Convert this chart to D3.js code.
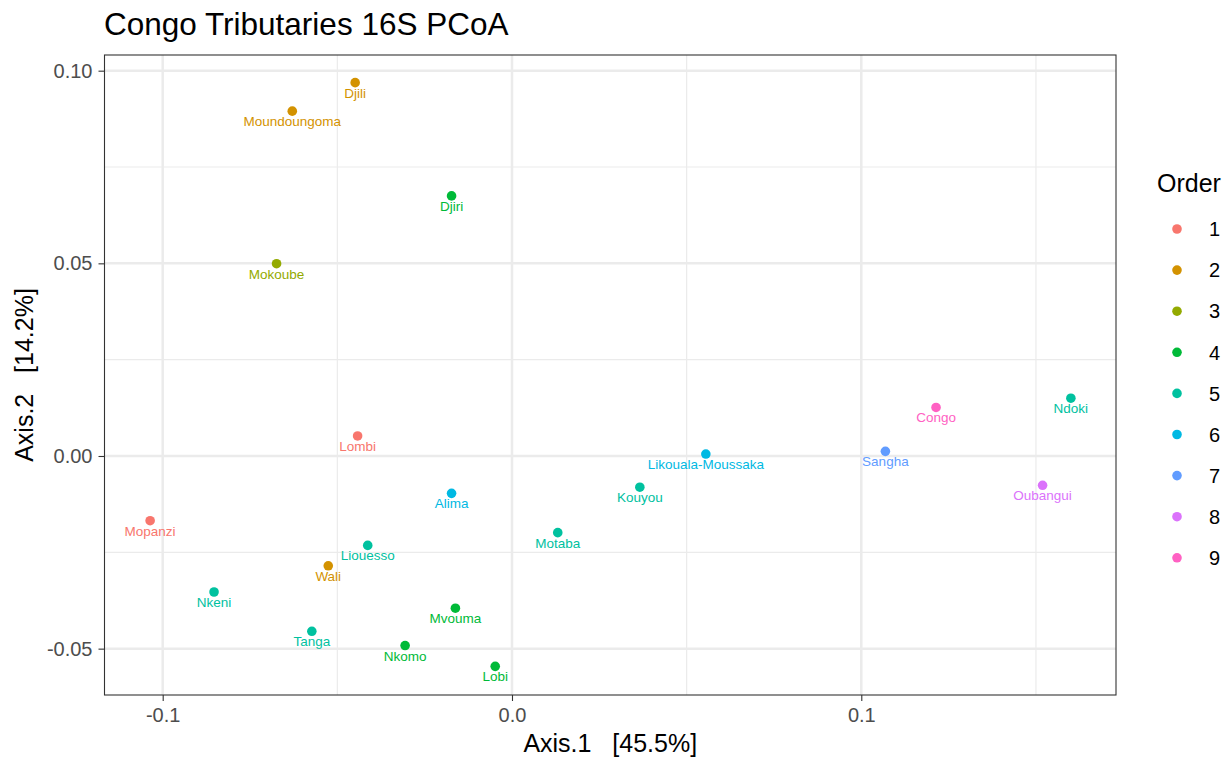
<!DOCTYPE html>
<html>
<head>
<meta charset="utf-8">
<script src="https://cdn.jsdelivr.net/npm/d3@7"></script>
<style>
  body { margin: 0; background: #fff; }
  text { font-family: "Liberation Sans", Arial, sans-serif; white-space: pre; }
</style>
</head>
<body>
<svg id="plot"></svg>
<script>
// sample data
const samples = ["Djili", "Moundoungoma", "Djiri", "Mokoube", "Lombi", "Mopanzi", "Alima",
    "Liouesso", "Wali", "Nkeni", "Tanga", "Nkomo", "Mvouma", "Lobi", "Motaba", "Kouyou",
    "Likouala-Moussaka", "Sangha", "Congo", "Ndoki", "Oubangui"];
const axis1 = [-0.0449, -0.0629, -0.0173, -0.0674, -0.0442, -0.1036, -0.0173,
    -0.0413, -0.0526, -0.0853, -0.0573, -0.0306, -0.0162, -0.0048, 0.0131, 0.0366,
    0.0555, 0.1069, 0.1214, 0.1600, 0.1519];
const axis2 = [0.0969, 0.0895, 0.0675, 0.0499, 0.0052, -0.0168, -0.0097,
    -0.0232, -0.0285, -0.0353, -0.0455, -0.0492, -0.0395, -0.0546, -0.0199, -0.0081,
    0.0005, 0.0012, 0.0126, 0.0150, -0.0076];
const orders = ["2", "2", "4", "3", "1", "1", "6",
    "5", "2", "5", "5", "4", "4", "4", "5", "5",
    "6", "7", "9", "5", "8"];

const orderLevels = ["1", "2", "3", "4", "5", "6", "7", "8", "9"];
const orderColors = ["#F8766D", "#D39200", "#93AA00", "#00BA38", "#00C19F", "#00B9E3", "#619CFF", "#DB72FB", "#FF61C3"];

const xMajor = [-0.1, 0.0, 0.1];
const xMinor = [-0.05, 0.05, 0.15];
const yMajor = [-0.05, 0.00, 0.05, 0.10];
const yMinor = [-0.025, 0.025, 0.075];
const xLabels = ["-0.1", "0.0", "0.1"];
const yLabels = ["-0.05", "0.00", "0.05", "0.10"];

const width = 1232, height = 760;
const panel = { left: 104.5, right: 1116, top: 55, bottom: 695 };

const svg = d3.select("#plot")
    .attr("width", width)
    .attr("height", height);

const x = d3.scaleLinear().domain([-0.11666, 0.17292]).range([panel.left, panel.right]);
const y = d3.scaleLinear().domain([-0.06203, 0.10407]).range([panel.bottom, panel.top]);
const color = d3.scaleOrdinal(orderLevels, orderColors);

// grid lines
const grid = svg.append("g");
grid.selectAll(".xminor").data(xMinor).enter().append("line")
    .attr("x1", d => x(d)).attr("x2", d => x(d))
    .attr("y1", panel.top).attr("y2", panel.bottom)
    .attr("stroke", "#EBEBEB").attr("stroke-width", 1.2);
grid.selectAll(".yminor").data(yMinor).enter().append("line")
    .attr("y1", d => y(d)).attr("y2", d => y(d))
    .attr("x1", panel.left).attr("x2", panel.right)
    .attr("stroke", "#EBEBEB").attr("stroke-width", 1.2);
grid.selectAll(".xmajor").data(xMajor).enter().append("line")
    .attr("x1", d => x(d)).attr("x2", d => x(d))
    .attr("y1", panel.top).attr("y2", panel.bottom)
    .attr("stroke", "#EBEBEB").attr("stroke-width", 2.5);
grid.selectAll(".ymajor").data(yMajor).enter().append("line")
    .attr("y1", d => y(d)).attr("y2", d => y(d))
    .attr("x1", panel.left).attr("x2", panel.right)
    .attr("stroke", "#EBEBEB").attr("stroke-width", 2.5);

// points and labels
const pts = svg.append("g");
pts.selectAll("circle").data(samples).enter().append("circle")
    .attr("cx", (d, i) => x(axis1[i]))
    .attr("cy", (d, i) => y(axis2[i]))
    .attr("r", 4.8)
    .attr("fill", (d, i) => color(orders[i]));
pts.selectAll("text").data(samples).enter().append("text")
    .attr("x", (d, i) => x(axis1[i]))
    .attr("y", (d, i) => y(axis2[i]) + 15)
    .attr("text-anchor", "middle")
    .attr("font-size", 13.5)
    .attr("fill", (d, i) => color(orders[i]))
    .text(d => d);

// panel border
svg.append("rect")
    .attr("x", panel.left).attr("y", panel.top)
    .attr("width", panel.right - panel.left).attr("height", panel.bottom - panel.top)
    .attr("fill", "none").attr("stroke", "#333333").attr("stroke-width", 1.1);

// axes
const xAxis = svg.append("g")
    .attr("transform", "translate(0," + panel.bottom + ")")
    .call(d3.axisBottom(x).tickValues(xMajor).tickSize(6).tickPadding(7)
        .tickFormat((d, i) => xLabels[i]));
const yAxis = svg.append("g")
    .attr("transform", "translate(" + panel.left + ",0)")
    .call(d3.axisLeft(y).tickValues(yMajor).tickSize(6).tickPadding(6)
        .tickFormat((d, i) => yLabels[i]));
[xAxis, yAxis].forEach(a => {
    a.select(".domain").remove();
    a.selectAll(".tick line").attr("stroke", "#333333").attr("stroke-width", 1.1);
    a.selectAll(".tick text")
        .attr("fill", "#4D4D4D")
        .attr("font-size", 20)
        .attr("font-family", "Liberation Sans, Arial, sans-serif");
});

// titles
svg.append("text")
    .attr("x", 104).attr("y", 35)
    .attr("font-size", 31.5)
    .attr("fill", "#000")
    .text("Congo Tributaries 16S PCoA");
svg.append("text")
    .attr("x", (panel.left + panel.right) / 2).attr("y", 752)
    .attr("text-anchor", "middle")
    .attr("font-size", 25)
    .text("Axis.1   [45.5%]");
svg.append("text")
    .attr("transform", "translate(" + 33 + "," + (panel.top + panel.bottom) / 2 + ") rotate(-90)")
    .attr("text-anchor", "middle")
    .attr("font-size", 25)
    .text("Axis.2   [14.2%]");

// legend
const legend = svg.append("g");
legend.append("text")
    .attr("x", 1157).attr("y", 192)
    .attr("font-size", 25)
    .text("Order");
const items = legend.selectAll(".item").data(orderLevels).enter().append("g")
    .attr("transform", (d, i) => "translate(1177," + (229 + i * 41.1) + ")");
items.append("circle")
    .attr("r", 4.8)
    .attr("fill", d => color(d));
items.append("text")
    .attr("x", 32)
    .attr("dy", "0.36em")
    .attr("font-size", 20)
    .text(d => d);
</script>
</body>
</html>
